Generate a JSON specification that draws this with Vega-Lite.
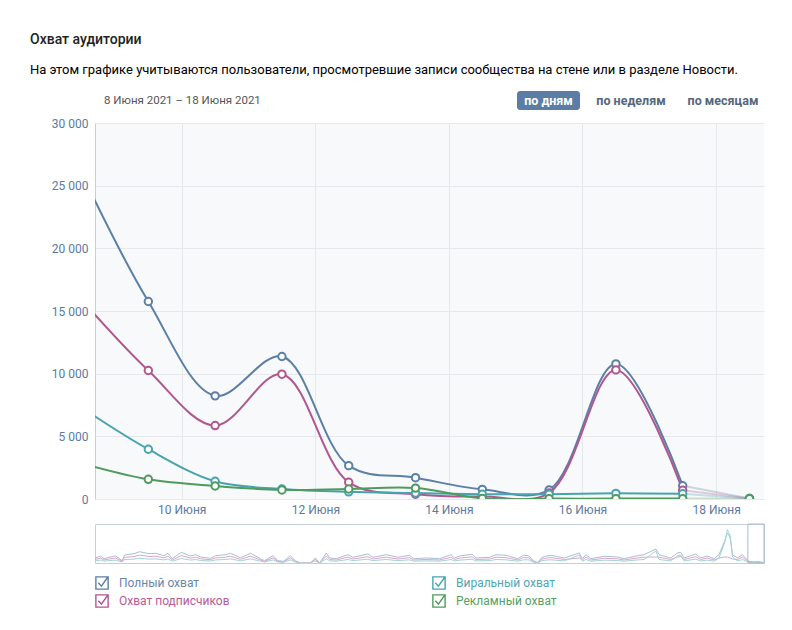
{
  "$schema": "https://vega.github.io/schema/vega-lite/v6.json",
  "background": "white",
  "padding": {"left": 30, "top": 33, "right": 10, "bottom": 10},
  "title": {
    "text": "Охват аудитории",
    "subtitle": "На этом графике учитываются пользователи, просмотревшие записи сообщества на стене или в разделе Новости.",
    "anchor": "start",
    "frame": "group",
    "dx": -65,
    "fontSize": 14,
    "fontWeight": 500,
    "color": "#222222",
    "subtitleFontSize": 13,
    "subtitleColor": "#000000",
    "subtitlePadding": 17,
    "offset": 14
  },
  "spacing": 13,
  "bounds": "flush",
  "resolve": {"scale": {"color": "independent"}},
  "vconcat": [
    {
      "width": 669,
      "height": 19,
      "data": {"values": [
        {"item": "8 Июня 2021 – 18 Июня 2021", "role": "period"},
        {"item": "по дням", "role": "active"},
        {"item": "по неделям", "role": "option"},
        {"item": "по месяцам", "role": "option"}
      ]},
      "resolve": {"scale": {"x": "independent"}},
      "layer": [
        {
          "transform": [{"filter": "datum.role == 'period'"}],
          "mark": {"type": "text", "fontSize": 11.5, "align": "left", "color": "#555555"},
          "encoding": {
            "x": {"field": "item", "type": "nominal", "axis": null, "scale": {"type": "point", "padding": 0, "range": [9, 9]}},
            "text": {"field": "item"}
          }
        },
        {
          "transform": [{"filter": "datum.item == 'по дням'"}],
          "encoding": {
            "x": {"field": "item", "type": "nominal", "axis": null, "scale": {"type": "point", "padding": 0, "range": [453.5, 453.5]}}
          },
          "layer": [
            {"mark": {"type": "bar", "width": 63, "color": "#5a7ca5", "cornerRadius": 3}},
            {
              "mark": {"type": "text", "fontSize": 12.5, "fontWeight": "bold", "align": "center", "color": "white"},
              "encoding": {"text": {"field": "item"}}
            }
          ]
        },
        {
          "transform": [{"filter": "datum.item == 'по неделям'"}],
          "mark": {"type": "text", "fontSize": 12.5, "fontWeight": "bold", "align": "center", "color": "#55677d"},
          "encoding": {
            "x": {"field": "item", "type": "nominal", "axis": null, "scale": {"type": "point", "padding": 0, "range": [536, 536]}},
            "text": {"field": "item"}
          }
        },
        {
          "transform": [{"filter": "datum.item == 'по месяцам'"}],
          "mark": {"type": "text", "fontSize": 12.5, "fontWeight": "bold", "align": "center", "color": "#55677d"},
          "encoding": {
            "x": {"field": "item", "type": "nominal", "axis": null, "scale": {"type": "point", "padding": 0, "range": [628, 628]}},
            "text": {"field": "item"}
          }
        }
      ]
    },
    {
      "spacing": 25,
      "bounds": "flush",
      "resolve": {"scale": {"color": "independent"}},
      "vconcat": [
        {
          "width": 669,
          "height": 376,
          "view": {"fill": "#f8f9fa", "stroke": null},
          "data": {"values": [
            {"date": "2021-06-08T12:00", "series": "Полный охват", "value": 26000},
            {"date": "2021-06-09T12:00", "series": "Полный охват", "value": 15760},
            {"date": "2021-06-10T12:00", "series": "Полный охват", "value": 8230},
            {"date": "2021-06-11T12:00", "series": "Полный охват", "value": 11370},
            {"date": "2021-06-12T12:00", "series": "Полный охват", "value": 2660},
            {"date": "2021-06-13T12:00", "series": "Полный охват", "value": 1700},
            {"date": "2021-06-14T12:00", "series": "Полный охват", "value": 770},
            {"date": "2021-06-15T12:00", "series": "Полный охват", "value": 720},
            {"date": "2021-06-16T12:00", "series": "Полный охват", "value": 10780},
            {"date": "2021-06-17T12:00", "series": "Полный охват", "value": 1060},
            {"date": "2021-06-18T12:00", "series": "Полный охват", "value": 50},
            {"date": "2021-06-08T12:00", "series": "Охват подписчиков", "value": 15900},
            {"date": "2021-06-09T12:00", "series": "Охват подписчиков", "value": 10250},
            {"date": "2021-06-10T12:00", "series": "Охват подписчиков", "value": 5860},
            {"date": "2021-06-11T12:00", "series": "Охват подписчиков", "value": 9960},
            {"date": "2021-06-12T12:00", "series": "Охват подписчиков", "value": 1330},
            {"date": "2021-06-13T12:00", "series": "Охват подписчиков", "value": 380},
            {"date": "2021-06-14T12:00", "series": "Охват подписчиков", "value": 200},
            {"date": "2021-06-15T12:00", "series": "Охват подписчиков", "value": 480},
            {"date": "2021-06-16T12:00", "series": "Охват подписчиков", "value": 10300},
            {"date": "2021-06-17T12:00", "series": "Охват подписчиков", "value": 700},
            {"date": "2021-06-18T12:00", "series": "Охват подписчиков", "value": 40},
            {"date": "2021-06-08T12:00", "series": "Виральный охват", "value": 7300},
            {"date": "2021-06-09T12:00", "series": "Виральный охват", "value": 3970},
            {"date": "2021-06-10T12:00", "series": "Виральный охват", "value": 1410},
            {"date": "2021-06-11T12:00", "series": "Виральный охват", "value": 800},
            {"date": "2021-06-12T12:00", "series": "Виральный охват", "value": 570},
            {"date": "2021-06-13T12:00", "series": "Виральный охват", "value": 480},
            {"date": "2021-06-14T12:00", "series": "Виральный охват", "value": 380},
            {"date": "2021-06-15T12:00", "series": "Виральный охват", "value": 380},
            {"date": "2021-06-16T12:00", "series": "Виральный охват", "value": 450},
            {"date": "2021-06-17T12:00", "series": "Виральный охват", "value": 420},
            {"date": "2021-06-18T12:00", "series": "Виральный охват", "value": 30},
            {"date": "2021-06-08T12:00", "series": "Рекламный охват", "value": 2850},
            {"date": "2021-06-09T12:00", "series": "Рекламный охват", "value": 1570},
            {"date": "2021-06-10T12:00", "series": "Рекламный охват", "value": 1040},
            {"date": "2021-06-11T12:00", "series": "Рекламный охват", "value": 720},
            {"date": "2021-06-12T12:00", "series": "Рекламный охват", "value": 800},
            {"date": "2021-06-13T12:00", "series": "Рекламный охват", "value": 870},
            {"date": "2021-06-14T12:00", "series": "Рекламный охват", "value": 50},
            {"date": "2021-06-15T12:00", "series": "Рекламный охват", "value": 30},
            {"date": "2021-06-16T12:00", "series": "Рекламный охват", "value": 30},
            {"date": "2021-06-17T12:00", "series": "Рекламный охват", "value": 30},
            {"date": "2021-06-18T12:00", "series": "Рекламный охват", "value": 20}
          ]},
          "encoding": {
            "x": {
              "field": "date", "type": "temporal",
              "scale": {"domain": [
                {"year": 2021, "month": 6, "date": 8, "hours": 16, "minutes": 50},
                {"year": 2021, "month": 6, "date": 18, "hours": 17, "minutes": 13}
              ]},
              "axis": {
                "title": null, "format": "%-d %B", "domain": false, "ticks": false,
                "labelPadding": 5, "minExtent": 25,
                "values": [
                  {"year": 2021, "month": 6, "date": 10},
                  {"year": 2021, "month": 6, "date": 12},
                  {"year": 2021, "month": 6, "date": 14},
                  {"year": 2021, "month": 6, "date": 16},
                  {"year": 2021, "month": 6, "date": 18}
                ]
              }
            },
            "y": {
              "field": "value", "type": "quantitative",
              "scale": {"domain": [0, 30000], "nice": false},
              "axis": {
                "title": null, "format": ",d", "values": [0, 5000, 10000, 15000, 20000, 25000, 30000],
                "domain": true, "domainColor": "#c5d0db", "ticks": false, "labelPadding": 7
              }
            },
            "color": {
              "field": "series", "type": "nominal",
              "scale": {
                "domain": ["Полный охват", "Виральный охват", "Охват подписчиков", "Рекламный охват"],
                "range": ["#5b7fa6", "#47a3b0", "#b1568f", "#4f9a5e"]
              },
              "legend": {
                "title": null, "orient": "bottom", "direction": "horizontal", "columns": 2,
                "symbolType": "M-1,-1H1V1H-1Z M-0.6,-0.05 L-0.1,0.5 L0.9,-0.9",
                "symbolSize": 150, "symbolStrokeWidth": 1.4, "symbolFillColor": "white", "symbolOpacity": 1,
                "labelFontSize": 12, "labelOffset": 10, "rowPadding": 0, "columnPadding": 200, "offset": 52,
                "labelColor": {"expr": "datum.value == 'Полный охват' ? '#6a86ab' : datum.value == 'Охват подписчиков' ? '#b35c98' : datum.value == 'Виральный охват' ? '#4ea7b3' : '#559f64'"}
              }
            }
          },
          "layer": [
            {
              "transform": [{"filter": {"field": "date", "lt": {"year": 2021, "month": 6, "date": 18}}}],
              "mark": {"type": "line", "interpolate": "catmull-rom", "strokeWidth": 2, "clip": true}
            },
            {
              "transform": [{"filter": {"field": "date", "gte": {"year": 2021, "month": 6, "date": 17}}}],
              "mark": {"type": "line", "interpolate": "catmull-rom", "strokeWidth": 2, "opacity": 0.3, "clip": true}
            },
            {"mark": {"type": "point", "filled": false, "fill": "white", "size": 55, "strokeWidth": 2, "opacity": 1, "clip": true}}
          ]
        },
        {
          "width": 669,
          "height": 39,
          "view": {"stroke": "#c5d0db", "fill": "white"},
          "layer": [
            {
              "data": {"values": [
                {"d":0,"k":"t","v":5},{"d":3.3,"k":"t","v":7},{"d":5.3,"k":"t","v":4.3},{"d":8.2,"k":"t","v":5.7},{"d":12.2,"k":"t","v":7},{"d":16,"k":"t","v":2.3},{"d":17.4,"k":"t","v":8},{"d":23,"k":"t","v":9.3},{"d":26.3,"k":"t","v":11.3},{"d":31.8,"k":"t","v":9.3},{"d":35.7,"k":"t","v":9.7},{"d":40.6,"k":"t","v":7.3},{"d":43,"k":"t","v":9.7},{"d":45.5,"k":"t","v":4.3},{"d":50.8,"k":"t","v":10.7},{"d":56.3,"k":"t","v":7},{"d":59.2,"k":"t","v":8.3},{"d":62.2,"k":"t","v":6},{"d":68,"k":"t","v":4.7},{"d":71,"k":"t","v":7.3},{"d":76.9,"k":"t","v":8.3},{"d":79.8,"k":"t","v":9.7},{"d":85.7,"k":"t","v":5.3},{"d":91.6,"k":"t","v":9.7},{"d":97.4,"k":"t","v":4.3},{"d":99.8,"k":"t","v":2.3},{"d":104.9,"k":"t","v":7.3},{"d":107.6,"k":"t","v":2.3},{"d":111.1,"k":"t","v":1.7},{"d":115,"k":"t","v":7.3},{"d":118,"k":"t","v":2.3},{"d":121,"k":"t","v":0},{"d":126.8,"k":"t","v":0},{"d":129.8,"k":"t","v":5},{"d":132.3,"k":"t","v":0},{"d":136.2,"k":"t","v":10},{"d":138.2,"k":"t","v":5},{"d":142.1,"k":"t","v":4.3},{"d":149,"k":"t","v":8.3},{"d":151.9,"k":"t","v":5.7},{"d":160.7,"k":"t","v":9},{"d":163.7,"k":"t","v":5.7},{"d":171.5,"k":"t","v":8.3},{"d":178.4,"k":"t","v":5.7},{"d":185.2,"k":"t","v":7.7},{"d":187.6,"k":"t","v":4.3},{"d":195,"k":"t","v":5},{"d":202.9,"k":"t","v":4.3},{"d":209.7,"k":"t","v":8.3},{"d":211.7,"k":"t","v":5},{"d":214.6,"k":"t","v":7},{"d":222.1,"k":"t","v":8.7},{"d":224.4,"k":"t","v":5},{"d":232.3,"k":"t","v":5.7},{"d":236.2,"k":"t","v":8.3},{"d":242.1,"k":"t","v":7.7},{"d":248.9,"k":"t","v":4.3},{"d":252.3,"k":"t","v":7.7},{"d":255.4,"k":"t","v":7.3},{"d":258.1,"k":"t","v":2.3},{"d":260.7,"k":"t","v":0.3},{"d":263.2,"k":"t","v":5.7},{"d":266,"k":"t","v":7},{"d":268.5,"k":"t","v":7.7},{"d":276.4,"k":"t","v":5},{"d":285.2,"k":"t","v":10},{"d":287.1,"k":"t","v":4.3},{"d":289.1,"k":"t","v":8.3},{"d":292,"k":"t","v":4.3},{"d":299.9,"k":"t","v":6.7},{"d":307.7,"k":"t","v":6},{"d":311.6,"k":"t","v":4.3},{"d":319.5,"k":"t","v":7.3},{"d":323.4,"k":"t","v":8.3},{"d":330.3,"k":"t","v":14},{"d":332.2,"k":"t","v":8.3},{"d":339.1,"k":"t","v":5},{"d":343,"k":"t","v":10},{"d":345,"k":"t","v":10.7},{"d":346.9,"k":"t","v":5},{"d":353.8,"k":"t","v":9},{"d":356.7,"k":"t","v":5},{"d":360.6,"k":"t","v":7},{"d":364.6,"k":"t","v":4.3},{"d":367.5,"k":"t","v":8.3},{"d":370.8,"k":"t","v":21.7},{"d":372.4,"k":"t","v":30},{"d":374,"k":"t","v":26},{"d":375.5,"k":"t","v":8.3},{"d":378.3,"k":"t","v":5},{"d":381.2,"k":"t","v":8.3},{"d":383.2,"k":"t","v":5},{"d":385.1,"k":"t","v":1.7},{"d":388.1,"k":"t","v":1},{"d":391,"k":"t","v":1.3},{"d":394,"k":"t","v":0.3},
                {"d":0,"k":"s","v":3.5},{"d":3.3,"k":"s","v":4.9},{"d":5.3,"k":"s","v":3},{"d":8.2,"k":"s","v":4},{"d":12.2,"k":"s","v":4.9},{"d":16,"k":"s","v":1.6},{"d":17.4,"k":"s","v":5.6},{"d":23,"k":"s","v":6.5},{"d":26.3,"k":"s","v":7.9},{"d":31.8,"k":"s","v":6.5},{"d":35.7,"k":"s","v":6.8},{"d":40.6,"k":"s","v":5.1},{"d":43,"k":"s","v":6.8},{"d":45.5,"k":"s","v":3},{"d":50.8,"k":"s","v":7.5},{"d":56.3,"k":"s","v":4.9},{"d":59.2,"k":"s","v":5.8},{"d":62.2,"k":"s","v":4.2},{"d":68,"k":"s","v":3.3},{"d":71,"k":"s","v":5.1},{"d":76.9,"k":"s","v":5.8},{"d":79.8,"k":"s","v":6.8},{"d":85.7,"k":"s","v":3.7},{"d":91.6,"k":"s","v":6.8},{"d":97.4,"k":"s","v":3},{"d":99.8,"k":"s","v":1.6},{"d":104.9,"k":"s","v":5.1},{"d":107.6,"k":"s","v":1.6},{"d":111.1,"k":"s","v":1.2},{"d":115,"k":"s","v":5.1},{"d":118,"k":"s","v":1.6},{"d":121,"k":"s","v":0},{"d":126.8,"k":"s","v":0},{"d":129.8,"k":"s","v":3.5},{"d":132.3,"k":"s","v":0},{"d":136.2,"k":"s","v":7},{"d":138.2,"k":"s","v":3.5},{"d":142.1,"k":"s","v":3},{"d":149,"k":"s","v":5.8},{"d":151.9,"k":"s","v":4},{"d":160.7,"k":"s","v":6.3},{"d":163.7,"k":"s","v":4},{"d":171.5,"k":"s","v":5.8},{"d":178.4,"k":"s","v":4},{"d":185.2,"k":"s","v":5.4},{"d":187.6,"k":"s","v":3},{"d":195,"k":"s","v":3.5},{"d":202.9,"k":"s","v":3},{"d":209.7,"k":"s","v":5.8},{"d":211.7,"k":"s","v":3.5},{"d":214.6,"k":"s","v":4.9},{"d":222.1,"k":"s","v":6.1},{"d":224.4,"k":"s","v":3.5},{"d":232.3,"k":"s","v":4},{"d":236.2,"k":"s","v":5.8},{"d":242.1,"k":"s","v":5.4},{"d":248.9,"k":"s","v":3},{"d":252.3,"k":"s","v":5.4},{"d":255.4,"k":"s","v":5.1},{"d":258.1,"k":"s","v":1.6},{"d":260.7,"k":"s","v":0.2},{"d":263.2,"k":"s","v":4},{"d":266,"k":"s","v":4.9},{"d":268.5,"k":"s","v":5.4},{"d":276.4,"k":"s","v":3.5},{"d":285.2,"k":"s","v":5},{"d":287.1,"k":"s","v":3},{"d":289.1,"k":"s","v":5.8},{"d":292,"k":"s","v":3},{"d":299.9,"k":"s","v":4.7},{"d":307.7,"k":"s","v":4.2},{"d":311.6,"k":"s","v":3},{"d":319.5,"k":"s","v":5.1},{"d":323.4,"k":"s","v":5.8},{"d":330.3,"k":"s","v":6},{"d":332.2,"k":"s","v":5.8},{"d":339.1,"k":"s","v":3.5},{"d":343,"k":"s","v":6},{"d":345,"k":"s","v":6.5},{"d":346.9,"k":"s","v":3.5},{"d":353.8,"k":"s","v":6.3},{"d":356.7,"k":"s","v":3.5},{"d":360.6,"k":"s","v":4.9},{"d":364.6,"k":"s","v":3},{"d":367.5,"k":"s","v":5},{"d":370.8,"k":"s","v":6},{"d":372.4,"k":"s","v":6},{"d":374,"k":"s","v":5},{"d":375.5,"k":"s","v":4},{"d":378.3,"k":"s","v":3.5},{"d":381.2,"k":"s","v":5.8},{"d":383.2,"k":"s","v":3.5},{"d":385.1,"k":"s","v":1.2},{"d":388.1,"k":"s","v":0.7},{"d":391,"k":"s","v":0.9},{"d":394,"k":"s","v":0.2},
                {"d":0,"k":"r","v":2.1},{"d":3.3,"k":"r","v":2.9},{"d":5.3,"k":"r","v":1.8},{"d":8.2,"k":"r","v":2.4},{"d":12.2,"k":"r","v":2.9},{"d":16,"k":"r","v":1},{"d":17.4,"k":"r","v":3.4},{"d":23,"k":"r","v":3.9},{"d":26.3,"k":"r","v":4.7},{"d":31.8,"k":"r","v":3.9},{"d":35.7,"k":"r","v":4.1},{"d":40.6,"k":"r","v":3.1},{"d":43,"k":"r","v":4.1},{"d":45.5,"k":"r","v":1.8},{"d":50.8,"k":"r","v":4.5},{"d":56.3,"k":"r","v":2.9},{"d":59.2,"k":"r","v":3.5},{"d":62.2,"k":"r","v":2.5},{"d":68,"k":"r","v":2},{"d":71,"k":"r","v":3.1},{"d":76.9,"k":"r","v":3.5},{"d":79.8,"k":"r","v":4.1},{"d":85.7,"k":"r","v":2.2},{"d":91.6,"k":"r","v":4.1},{"d":97.4,"k":"r","v":1.8},{"d":99.8,"k":"r","v":1},{"d":104.9,"k":"r","v":3.1},{"d":107.6,"k":"r","v":1},{"d":111.1,"k":"r","v":0.7},{"d":115,"k":"r","v":3.1},{"d":118,"k":"r","v":1},{"d":121,"k":"r","v":0},{"d":126.8,"k":"r","v":0},{"d":129.8,"k":"r","v":2.1},{"d":132.3,"k":"r","v":0},{"d":136.2,"k":"r","v":4.2},{"d":138.2,"k":"r","v":2.1},{"d":142.1,"k":"r","v":1.8},{"d":149,"k":"r","v":3.5},{"d":151.9,"k":"r","v":2.4},{"d":160.7,"k":"r","v":3.8},{"d":163.7,"k":"r","v":2.4},{"d":171.5,"k":"r","v":3.5},{"d":178.4,"k":"r","v":2.4},{"d":185.2,"k":"r","v":3.2},{"d":187.6,"k":"r","v":1.8},{"d":195,"k":"r","v":2.1},{"d":202.9,"k":"r","v":1.8},{"d":209.7,"k":"r","v":3.5},{"d":211.7,"k":"r","v":2.1},{"d":214.6,"k":"r","v":2.9},{"d":222.1,"k":"r","v":3.7},{"d":224.4,"k":"r","v":2.1},{"d":232.3,"k":"r","v":2.4},{"d":236.2,"k":"r","v":3.5},{"d":242.1,"k":"r","v":3.2},{"d":248.9,"k":"r","v":1.8},{"d":252.3,"k":"r","v":3.2},{"d":255.4,"k":"r","v":3.1},{"d":258.1,"k":"r","v":1},{"d":260.7,"k":"r","v":0.1},{"d":263.2,"k":"r","v":2.4},{"d":266,"k":"r","v":2.9},{"d":268.5,"k":"r","v":3.2},{"d":276.4,"k":"r","v":2.1},{"d":285.2,"k":"r","v":8},{"d":287.1,"k":"r","v":1.8},{"d":289.1,"k":"r","v":3.5},{"d":292,"k":"r","v":1.8},{"d":299.9,"k":"r","v":2.8},{"d":307.7,"k":"r","v":2.5},{"d":311.6,"k":"r","v":1.8},{"d":319.5,"k":"r","v":3.1},{"d":323.4,"k":"r","v":3.5},{"d":330.3,"k":"r","v":12},{"d":332.2,"k":"r","v":3.5},{"d":339.1,"k":"r","v":2.1},{"d":343,"k":"r","v":7},{"d":345,"k":"r","v":8},{"d":346.9,"k":"r","v":2.1},{"d":353.8,"k":"r","v":3.8},{"d":356.7,"k":"r","v":2.1},{"d":360.6,"k":"r","v":2.9},{"d":364.6,"k":"r","v":1.8},{"d":367.5,"k":"r","v":5},{"d":370.8,"k":"r","v":20},{"d":372.4,"k":"r","v":33.3},{"d":374,"k":"r","v":28},{"d":375.5,"k":"r","v":6},{"d":378.3,"k":"r","v":2.1},{"d":381.2,"k":"r","v":3.5},{"d":383.2,"k":"r","v":2.1},{"d":385.1,"k":"r","v":0.7},{"d":388.1,"k":"r","v":0.4},{"d":391,"k":"r","v":0.5},{"d":394,"k":"r","v":0.1}
              ]},
              "mark": {"type": "line", "strokeWidth": 1, "clip": true},
              "encoding": {
                "x": {"field": "d", "type": "quantitative", "scale": {"domain": [0, 394], "nice": false, "zero": false}, "axis": null},
                "y": {"field": "v", "type": "quantitative", "scale": {"domain": [0, 39], "nice": false}, "axis": null},
                "color": {"field": "k", "type": "nominal", "scale": {"domain": ["t", "s", "r"], "range": ["#aabdd3", "#dba6c8", "#a2d2da"]}, "legend": null}
              }
            },
            {
              "data": {"values": [{"from": 384.5, "to": 394}]},
              "mark": {"type": "rect", "fill": "transparent", "stroke": "#aab9cb", "strokeWidth": 1},
              "encoding": {
                "x": {"field": "from", "type": "quantitative"},
                "x2": {"field": "to"}
              }
            }
          ]
        }
      ]
    }
  ],
  "config": {
    "font": "Roboto",
    "view": {"stroke": null},
    "axis": {"labelFont": "Roboto", "labelFontSize": 12, "labelColor": "#5b7aa0", "gridColor": "#e7e8ec", "grid": true},
    "legend": {"labelFont": "Roboto"},
    "locale": {
      "number": {"decimal": ",", "thousands": " ", "grouping": [3], "currency": ["", " ₽"]},
      "time": {
        "dateTime": "%A, %e %B %Y г. %X",
        "date": "%d.%m.%Y",
        "time": "%H:%M:%S",
        "periods": ["AM", "PM"],
        "days": ["воскресенье", "понедельник", "вторник", "среда", "четверг", "пятница", "суббота"],
        "shortDays": ["вс", "пн", "вт", "ср", "чт", "пт", "сб"],
        "months": ["Января", "Февраля", "Марта", "Апреля", "Мая", "Июня", "Июля", "Августа", "Сентября", "Октября", "Ноября", "Декабря"],
        "shortMonths": ["янв", "фев", "мар", "апр", "мая", "июн", "июл", "авг", "сен", "окт", "ноя", "дек"]
      }
    }
  }
}
